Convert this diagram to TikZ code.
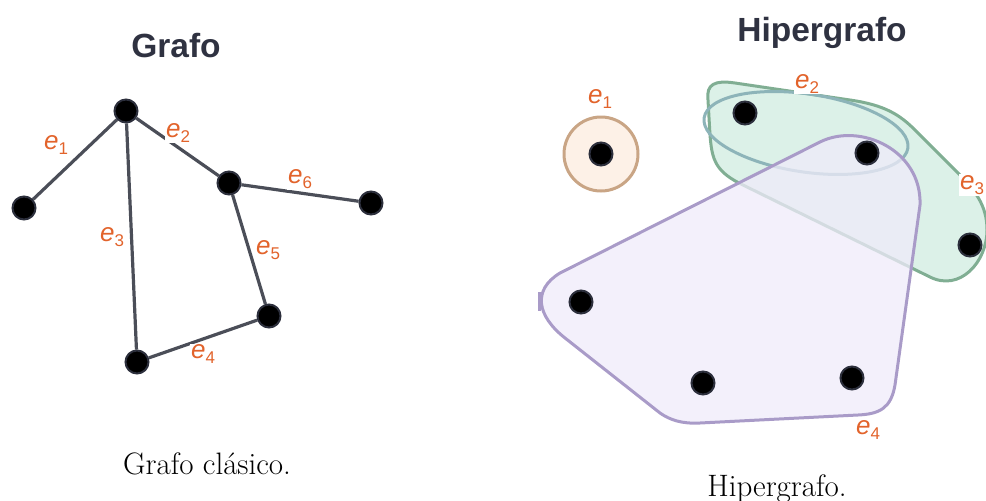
\documentclass[tikz,border=0pt]{standalone}
\usepackage{fontspec}
\usetikzlibrary{backgrounds}
\newfontfamily\labfont{Liberation Sans}
\definecolor{edgec}{HTML}{4B4E58}
\definecolor{nodeb}{HTML}{2C2F3C}
\definecolor{labc}{HTML}{E2632B}
\definecolor{titlec}{HTML}{2F3241}
\definecolor{eonel}{HTML}{C9A585}
\definecolor{eonef}{HTML}{FDF1E7}
\definecolor{etwol}{HTML}{8DB4B9}
\definecolor{ethreel}{HTML}{80AE93}
\definecolor{ethreef}{HTML}{D6EEE4}
\definecolor{efourl}{HTML}{A99BC8}
\definecolor{efourf}{HTML}{EFEBFA}
\newcommand{\elab}[1]{{\labfont\fontsize{26}{26}\selectfont\itshape e\raisebox{-5pt}{\upshape\fontsize{17}{17}\selectfont #1}}}
\tikzset{
  vert/.style={circle, fill=black, draw=nodeb, line width=2pt, minimum size=23pt, inner sep=0pt},
  gedge/.style={draw=edgec, line width=3.2pt},
  lbl/.style={text=labc, inner sep=1pt},
  lblw/.style={lbl, fill=white},
  title/.style={font=\labfont\bfseries\fontsize{33.5}{33.5}\selectfont, text=titlec, anchor=base},
  caption/.style={font=\fontsize{31}{36}\selectfont, anchor=base},
  hline/.style={line width=3pt}
}
\begin{document}
\begin{tikzpicture}[x=1pt,y=-1pt]
\useasboundingbox (0,0) rectangle (986,501);
% ---------- Left: classical graph ----------
\node[title] (tg) at (176,57) {Grafo};
\node[vert] (a) at (126,111) {};
\node[vert] (b) at (24,208) {};
\node[vert] (c) at (229,183) {};
\node[vert] (d) at (371,203) {};
\node[vert] (f) at (269,316) {};
\node[vert] (g) at (137,362) {};
\begin{scope}[on background layer]
\draw[gedge] (a) -- (b);
\draw[gedge] (a) -- (c);
\draw[gedge] (a) -- (g);
\draw[gedge] (g) -- (f);
\draw[gedge] (c) -- (f);
\draw[gedge] (c) -- (d);
\end{scope}
\node[lbl] (l1) at (56,145) {\elab{1}};
\node[lblw] (l2) at (178,133) {\elab{2}};
\node[lbl] (l3) at (112,237) {\elab{3}};
\node[lblw] (l4) at (203,354) {\elab{4}};
\node[lblw] (l5) at (268,250) {\elab{5}};
\node[lblw] (l6) at (300,179) {\elab{6}};
\node[caption] (cg) at (207,474) {Grafo clásico.};
% ---------- Right: hypergraph ----------
\node[title] (th) at (822,41) {Hipergrafo};
\node[circle, draw=eonel, fill=eonef, line width=3pt, minimum size=74pt, inner sep=0pt] (E1) at (601,154) {};
% e3 (green)
\draw[hline, draw=ethreel, fill=ethreef, fill opacity=0.85]
  (735,83) -- (850,100) .. controls (885,105) and (900,115) .. (915,130)
  -- (955,170) .. controls (975,190) and (987,205) .. (987,230)
  .. controls (987,262) and (960,292) .. (930,277)
  -- (745,186) .. controls (715,172) and (712,160) .. (710,135)
  -- (708,100) .. controls (706,84) and (715,80) .. cycle;
% e2 (ellipse)
\draw[hline, draw=etwol, rotate around={-8.5:(806,133)}] (806,133) ellipse [x radius=103pt, y radius=39pt];
% e4 (purple)
\draw[hline, draw=efourl, fill=efourf, fill opacity=0.75]
  (560,273) -- (820,142) .. controls (860,122) and (922,150) .. (920,205)
  -- (895,385) .. controls (891,408) and (880,414) .. (858,415)
  -- (700,423) .. controls (682,424) and (670,420) .. (660,413)
  -- (565,338) .. controls (537,316) and (532,290) .. cycle;
\draw[line width=3.5pt, draw=efourl] (539.5,292) -- (539.5,311);
\node[vert] (p) at (601,154) {};
\node[vert] (q) at (745,113) {};
\node[vert] (r) at (867,153) {};
\node[vert] (s) at (970,245) {};
\node[vert] (t) at (581,302) {};
\node[vert] (u) at (703,383) {};
\node[vert] (v) at (852,378) {};
\node[lbl] (h1) at (600,99) {\elab{1}};
\node[lblw] (h2) at (807,84) {\elab{2}};
\node[lblw] (h3) at (972,185) {\elab{3}};
\node[lbl] (h4) at (868,430) {\elab{4}};
\node[caption] (ch) at (777,496) {Hipergrafo.};
\end{tikzpicture}
\end{document}
